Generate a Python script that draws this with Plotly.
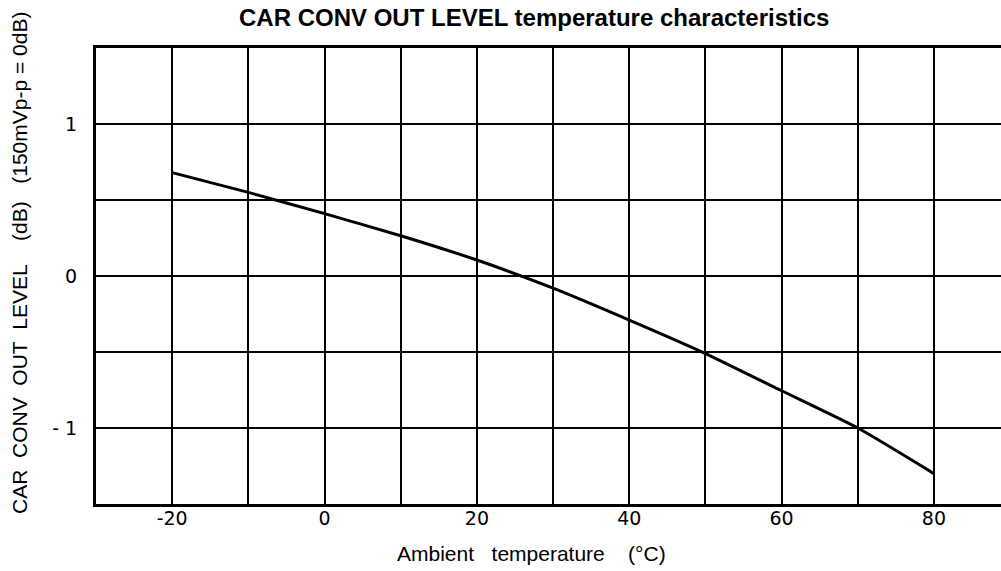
import plotly.graph_objects as go

# Ambient temperature (°C) and measured output level (dB, 150mVp-p = 0dB)
temperature = [-20, -10, 0, 10, 20, 30, 40, 50, 60, 70, 80]
out_level = [0.68, 0.55, 0.41, 0.265, 0.105, -0.08, -0.29, -0.51, -0.755, -1.0, -1.30]

x_tickvals = [-20, 0, 20, 40, 60, 80]
x_ticktext = ["-20", "0", "20", "40", "60", "80"]
y_tickvals = [-1, 0, 1]
y_ticktext = ["- 1", "0", "1"]

NB = "\u00a0"
title_text = "CAR CONV OUT LEVEL temperature characteristics"
x_title = f"Ambient{NB*3}temperature{NB*4}(°C)"
y_title = f"CAR{NB*2}CONV{NB*2}OUT{NB*2}LEVEL{NB*4}(dB){NB*3}(150mVp-p{NB}={NB}0dB)"

fig = go.Figure()
fig.add_trace(go.Scatter(
    x=temperature, y=out_level, mode="lines",
    line=dict(color="black", width=3, shape="spline", smoothing=0.6),
    showlegend=False, hoverinfo="skip",
))

tick_font = dict(family="DejaVu Sans", size=19, color="black")

fig.update_layout(
    width=1001, height=571,
    margin=dict(l=96, r=0, t=48, b=67),
    paper_bgcolor="white", plot_bgcolor="white",
    xaxis=dict(
        range=[-30, 88.8], tickvals=x_tickvals, ticktext=x_ticktext,
        showgrid=True, gridcolor="black", gridwidth=2,
        minor=dict(dtick=10, tick0=0, showgrid=True, gridcolor="black", gridwidth=2),
        showline=True, linecolor="black", linewidth=3, mirror=True,
        ticks="", ticklabelstandoff=-5, tickfont=tick_font, zeroline=False,
    ),
    yaxis=dict(
        range=[-1.5, 1.5], tickvals=y_tickvals, ticktext=y_ticktext,
        showgrid=True, gridcolor="black", gridwidth=2,
        minor=dict(dtick=0.5, tick0=0, showgrid=True, gridcolor="black", gridwidth=2),
        showline=True, linecolor="black", linewidth=3, mirror=False,
        ticks="", ticklabelstandoff=12, tickfont=tick_font, zeroline=False,
    ),
    annotations=[
        dict(text=f"<b>{title_text}</b>", xref="paper", yref="paper",
             x=(534 - 96) / 905, y=(504 - 17) / 456, xanchor="center", yanchor="middle",
             showarrow=False, font=dict(family="Liberation Sans", size=24, color="black")),
        dict(text=x_title, xref="paper", yref="paper",
             x=(531 - 96) / 905, y=(504 - 553) / 456, xanchor="center", yanchor="middle",
             showarrow=False, font=dict(family="Liberation Sans", size=21, color="black")),
        dict(text=y_title, xref="paper", yref="paper", textangle=-90,
             x=(19 - 96) / 905, y=(504 - 263) / 456, xanchor="center", yanchor="middle",
             showarrow=False, font=dict(family="Liberation Sans", size=21, color="black")),
    ],
)

fig.write_html("out.html")
